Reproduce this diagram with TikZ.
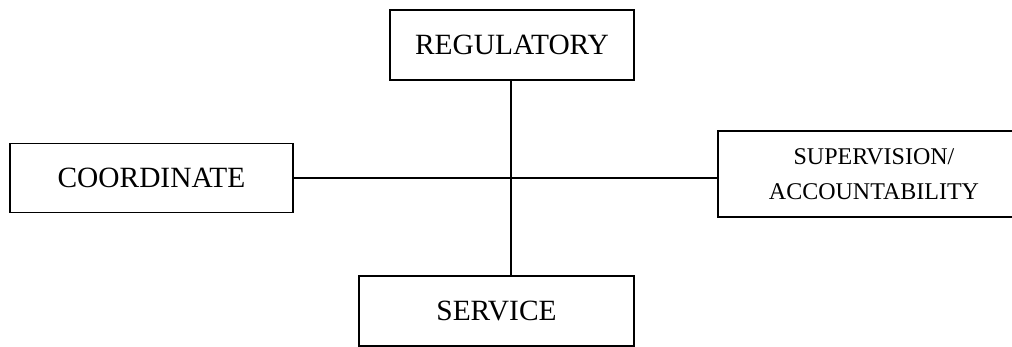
\documentclass[tikz,border=0pt]{standalone}
\usepackage{fontspec}
\setmainfont{Liberation Serif}
\usetikzlibrary{positioning,calc}

\begin{document}
\begin{tikzpicture}[
    x=1pt, y=-1pt,
    box/.style={rectangle, draw=black, line width=1.2pt, inner sep=0pt, align=center, font=\fontsize{29.4}{35}\selectfont},
    boxs/.style={box, font=\fontsize{24}{35}\selectfont},
    ln/.style={line width=1.2pt, draw=black}
]
    \useasboundingbox (0,0) rectangle (1012,347);
    \clip (0,0) rectangle (1012,347);

    \node [box, minimum width=244pt, minimum height=70pt] (reg) at (512,45) {REGULATORY};
    \node [box, minimum width=283pt, minimum height=69pt] (coord) at (151.5,178) {COORDINATE};
    \node [boxs, minimum width=312pt, minimum height=86pt] (sup) at (874,174) {SUPERVISION/\\ACCOUNTABILITY};
    \node [box, minimum width=275pt, minimum height=70pt] (serv) at (496.5,311) {SERVICE};

    \coordinate (hub) at (511,178);
    \draw [ln] (reg.south -| hub) -- (hub) -- (serv.north -| hub);
    \draw [ln] (coord.east |- hub) -- (hub) -- (sup.west |- hub);
\end{tikzpicture}
\end{document}
